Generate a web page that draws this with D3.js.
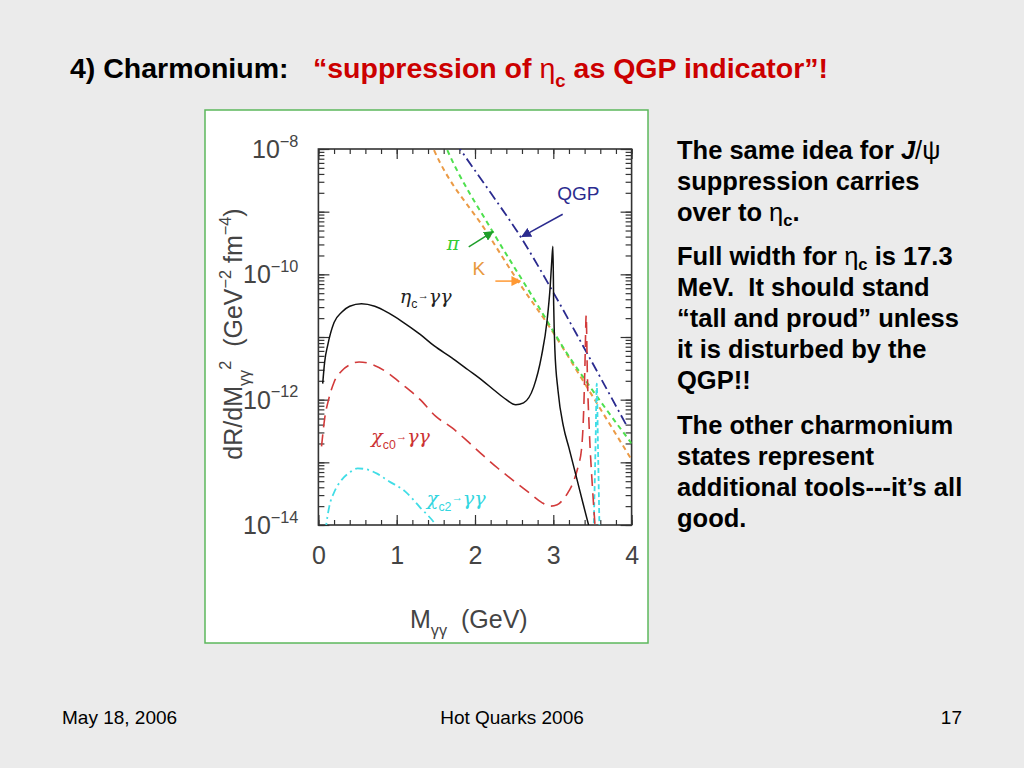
<!DOCTYPE html>
<html>
<head>
<meta charset="utf-8">
<script src="https://cdn.jsdelivr.net/npm/d3@7"></script>
<style>
  html, body { margin: 0; padding: 0; background: #ebebeb; }
  svg { display: block; }
</style>
</head>
<body>
<div id="slide"></div>
<script>
// ---- chart data: [mass in GeV, dR/dM^2] ----
const etaC = [
  [0.055, 1.8e-12], [0.08, 4.0e-12], [0.12, 7.5e-12], [0.2, 1.7e-11], [0.3, 2.5e-11],
  [0.4, 3.1e-11], [0.55, 3.4e-11], [0.72, 3.1e-11], [0.9, 2.4e-11], [1.06, 1.8e-11],
  [1.3, 1.1e-11], [1.48, 7.2e-12], [1.7, 4.7e-12], [1.91, 3.0e-12], [2.1, 2.0e-12],
  [2.25, 1.4e-12], [2.4, 1.0e-12], [2.52, 8.3e-13], [2.62, 8.9e-13], [2.75, 1.6e-12],
  [2.85, 5.0e-12], [2.92, 1.8e-11], [2.96, 6.3e-11], [2.98, 1.6e-10], [2.995, 2.8e-10],
  [3.005, 3.2e-11], [3.02, 6.3e-12], [3.06, 1.4e-12], [3.13, 3.7e-13], [3.2, 1.7e-13],
  [3.3, 5.5e-14], [3.38, 2.2e-14], [3.46, 9e-15]
];
const chiC0 = [
  [0.04, 1.8e-13], [0.08, 5.0e-13], [0.13, 1.0e-12], [0.2, 1.9e-12], [0.3, 2.9e-12],
  [0.4, 3.6e-12], [0.52, 4.0e-12], [0.7, 3.6e-12], [0.9, 2.6e-12], [1.06, 1.8e-12],
  [1.3, 1.0e-12], [1.5, 5.4e-13], [1.7, 3.6e-13], [1.9, 2.2e-13], [2.1, 1.3e-13],
  [2.3, 7.9e-14], [2.5, 5.0e-14], [2.7, 3.2e-14], [2.85, 2.3e-14], [2.96, 2.0e-14],
  [3.05, 2.1e-14], [3.12, 2.5e-14], [3.2, 3.5e-14], [3.26, 5.0e-14], [3.32, 8.9e-14],
  [3.36, 1.6e-13], [3.39, 7.9e-13], [3.405, 4.0e-12], [3.42, 2.2e-11], [3.435, 2.5e-12],
  [3.46, 3.2e-13], [3.5, 4.0e-14], [3.535, 9e-15]
];
const chiC2 = [
  [0.09, 8e-15], [0.1, 1.0e-14], [0.14, 2.0e-14], [0.2, 3.3e-14], [0.3, 5.3e-14],
  [0.4, 6.9e-14], [0.5, 8.0e-14], [0.6, 7.8e-14], [0.75, 6.6e-14], [0.9, 5.0e-14],
  [1.1, 3.5e-14], [1.3, 1.9e-14], [1.5, 1.0e-14], [1.55, 8e-15],
  [3.515, 8e-15], [3.54, 2.0e-13], [3.555, 1.8e-12], [3.57, 2.0e-13], [3.59, 8e-15]
];
const chiC2Breaks = [14]; // index where the second branch starts
const qgp = [
  [1.75, 1.3e-8], [1.81, 1.0e-8], [2.2, 2.0e-9], [2.57, 4.2e-10], [2.96, 6.3e-11],
  [3.38, 7.2e-12], [3.93, 4.0e-13]
];
const pion = [
  [1.6, 1.3e-8], [1.64, 1.0e-8], [2.23, 4.7e-10], [2.74, 4.3e-11], [3.17, 5.6e-12],
  [3.6, 9.5e-13], [4.0, 2.0e-13]
];
const kaon = [
  [1.43, 1.3e-8], [1.47, 1.0e-8], [2.15, 4.7e-10], [2.57, 7.1e-11], [2.96, 1.4e-11],
  [3.38, 2.0e-12], [4.0, 1.1e-13]
];

const xTicks = [0, 1, 2, 3, 4];
const yLabelTicks = [1e-8, 1e-10, 1e-12, 1e-14];
const yLabelExps = ["−8", "−10", "−12", "−14"];

// labels and arrows, anchored in data coordinates
const curveLabels = [
  {x: 1.37, y: 4.4e-11, color: "#222", segs: [["η", "g"], ["c", "sub"], ["→", "arr"], ["γγ", "g"]]},
  {x: 1.05, y: 2.5e-13, color: "#cc3333", segs: [["χ", "g"], ["c0", "sub"], ["→", "arr"], ["γγ", "g"]]},
  {x: 1.76, y: 2.6e-14, color: "#33d6e0", segs: [["χ", "g"], ["c2", "sub"], ["→", "arr"], ["γγ", "g"]]},
  {x: 3.32, y: 1.9e-9, color: "#2b2b8f", segs: [["QGP"]]},
  {x: 1.72, y: 3.0e-10, color: "#33cc33", segs: [["π", "g"]]},
  {x: 2.05, y: 1.2e-10, color: "#e8983c", segs: [["K"]]}
];
const arrows = [
  {from: [3.12, 9.1e-10], to: [2.6, 4.0e-10], color: "#2b2b8f"},
  {from: [1.92, 2.75e-10], to: [2.23, 4.8e-10], color: "#1e9e2a"},
  {from: [2.26, 7.8e-11], to: [2.58, 7.8e-11], color: "#ff9933"}
];

// ---- slide text ----
const bodyLines = [
  {y: 159, segs: [["The same idea for "], ["J", "i"], ["/ψ", "n"]]},
  {y: 190, segs: [["suppression carries"]]},
  {y: 221, segs: [["over to "], ["η", "n"], ["c", "sub"], ["."]]},
  {y: 265, segs: [["Full width for "], ["η", "n"], ["c", "sub"], [" is 17.3"]]},
  {y: 296, segs: [["MeV.\u00a0 It should stand"]]},
  {y: 327, segs: [["“tall and proud” unless"]]},
  {y: 358, segs: [["it is disturbed by the"]]},
  {y: 389, segs: [["QGP!!"]]},
  {y: 434, segs: [["The other charmonium"]]},
  {y: 465, segs: [["states represent"]]},
  {y: 496, segs: [["additional tools---it’s all"]]},
  {y: 527, segs: [["good."]]}
];

const W = 1024, H = 768;
const frame = {left: 318.4, right: 631.6, top: 149, bottom: 525};
const plotFont = "'Liberation Sans', Arial, sans-serif";
const ink = "#444";

const svg = d3.select("#slide").append("svg")
  .attr("width", W).attr("height", H);

svg.append("rect").attr("width", W).attr("height", H).attr("fill", "#ebebeb");

// writes rich text (sub/superscripts, italics) into a text element
function rich(sel, segs, size, subShift = 0.3) {
  let shift = 0;
  segs.forEach(([t, s]) => {
    const ts = sel.append("tspan").text(t);
    let target = 0;
    if (s === "sub") { target = size * subShift; ts.attr("font-size", size * 0.65); }
    if (s === "sup") { target = -size * 0.45; ts.attr("font-size", size * 0.65); }
    if (s === "arr") { target = -size * 0.2; ts.attr("font-size", size * 0.6); }
    if (s === "i") ts.attr("font-style", "italic");
    if (s === "n") ts.attr("font-weight", "normal");
    if (s === "g") ts.attr("font-family", "'DejaVu Serif', serif").attr("font-style", "italic");
    if (target !== shift) { ts.attr("dy", target - shift); shift = target; }
  });
}

// title
const title = svg.append("g")
  .attr("font-family", "'Liberation Sans', Arial, sans-serif")
  .attr("font-weight", "bold").attr("font-size", 28.5);
title.append("text").attr("x", 70).attr("y", 78).attr("fill", "#000").text("4) Charmonium:");
rich(title.append("text").attr("x", 313).attr("y", 78).attr("fill", "#cc0000"),
  [["“suppression of "], ["η", "n"], ["c", "sub"], [" as QGP indicator”!"]], 28.5);

// right hand text
const body = svg.append("g")
  .attr("font-family", "'Liberation Sans', Arial, sans-serif")
  .attr("font-weight", "bold").attr("font-size", 25.5).attr("fill", "#000");
bodyLines.forEach(l => rich(body.append("text").attr("x", 677).attr("y", l.y), l.segs, 25.5, 0.2));

// footer
const foot = svg.append("g")
  .attr("font-family", "'Liberation Sans', Arial, sans-serif")
  .attr("font-size", 19).attr("fill", "#000");
foot.append("text").attr("x", 62).attr("y", 724).text("May 18, 2006");
foot.append("text").attr("x", 512).attr("y", 724).attr("text-anchor", "middle").text("Hot Quarks 2006");
foot.append("text").attr("x", 962).attr("y", 724).attr("text-anchor", "end").text("17");

// picture box
svg.append("rect")
  .attr("x", 205).attr("y", 110).attr("width", 443).attr("height", 533)
  .attr("fill", "#fff").attr("stroke", "#5cb85c").attr("stroke-width", 1.5);

// scales
const x = d3.scaleLinear().domain([0, 4]).range([frame.left, frame.right]);
const y = d3.scaleLog().domain([1e-14, 1e-8]).range([frame.bottom, frame.top]);

const plot = svg.append("g").attr("font-family", plotFont);

// axes with inward ticks on all four sides
const minorX = d3.range(0, 4.001, 0.2);
const majorY = y.ticks().filter(v => Math.abs(Math.log10(v) - Math.round(Math.log10(v))) < 1e-6);
const minorY = y.ticks();

function styleAxis(g) {
  g.select(".domain").remove();
  g.selectAll("line").attr("stroke", "#333").attr("stroke-width", 1.2);
}
plot.append("g").attr("transform", `translate(0,${frame.bottom})`)
  .call(d3.axisBottom(x).tickValues(minorX).tickSize(-5).tickFormat(""))
  .call(styleAxis);
plot.append("g").attr("transform", `translate(0,${frame.bottom})`)
  .call(d3.axisBottom(x).tickValues(xTicks).tickSize(-10).tickPadding(21).tickFormat(d3.format("d")))
  .call(styleAxis)
  .call(g => g.selectAll("text").attr("font-size", 25).attr("fill", ink).attr("font-family", plotFont));
plot.append("g").attr("transform", `translate(0,${frame.top})`)
  .call(d3.axisTop(x).tickValues(minorX).tickSize(-5).tickFormat(""))
  .call(styleAxis);
plot.append("g").attr("transform", `translate(0,${frame.top})`)
  .call(d3.axisTop(x).tickValues(xTicks).tickSize(-10).tickFormat(""))
  .call(styleAxis);
[["left", frame.left, d3.axisLeft], ["right", frame.right, d3.axisRight]].forEach(([, px, ax]) => {
  plot.append("g").attr("transform", `translate(${px},0)`)
    .call(ax(y).tickValues(minorY).tickSize(-6).tickFormat(""))
    .call(styleAxis);
  plot.append("g").attr("transform", `translate(${px},0)`)
    .call(ax(y).tickValues(majorY).tickSize(-11).tickFormat(""))
    .call(styleAxis);
});

plot.append("rect")
  .attr("x", frame.left).attr("y", frame.top)
  .attr("width", frame.right - frame.left).attr("height", frame.bottom - frame.top)
  .attr("fill", "none").attr("stroke", "#333").attr("stroke-width", 1.6);

// y tick labels 10^n
yLabelTicks.forEach((v, i) => {
  const t = plot.append("text")
    .attr("x", frame.left - 20).attr("y", y(v) + 9)
    .attr("text-anchor", "end").attr("font-size", 25).attr("fill", ink);
  rich(t, [["10"], [yLabelExps[i], "sup"]], 25);
});

// axis titles
rich(plot.append("text").attr("x", 410).attr("y", 628).attr("font-size", 25).attr("fill", ink),
  [["M"], ["γγ", "sub"], ["\u00a0\u00a0(GeV)"]], 25);
const yt = plot.append("text")
  .attr("transform", "translate(242,334) rotate(-90)")
  .attr("text-anchor", "middle").attr("font-size", 25).attr("fill", ink);
rich(yt, [["dR/dM"], ["γγ", "sub"], ["2", "sup"], ["\u00a0\u00a0(GeV"], ["−2", "sup"], ["\u00a0fm"], ["−4", "sup"], [")"]], 25);

// curves
svg.append("defs").append("clipPath").attr("id", "frameClip")
  .append("rect")
  .attr("x", frame.left).attr("y", frame.top)
  .attr("width", frame.right - frame.left).attr("height", frame.bottom - frame.top);

const line = d3.line().x(d => x(d[0])).y(d => y(d[1])).curve(d3.curveMonotoneX);
const curves = plot.append("g").attr("clip-path", "url(#frameClip)").attr("fill", "none");

const series = [
  {data: kaon, color: "#eb9a45", width: 2, dash: "5,4"},
  {data: pion, color: "#4ee04e", width: 2, dash: "5,4"},
  {data: qgp, color: "#2b2b8f", width: 1.8, dash: "10,4,2,4"},
  {data: chiC2.slice(0, chiC2Breaks[0]), color: "#40dde6", width: 1.8, dash: "8,4,2,4"},
  {data: chiC2.slice(chiC2Breaks[0]), color: "#40dde6", width: 1.8, dash: "5,3"},
  {data: chiC0, color: "#d23a3a", width: 1.6, dash: "12,7"},
  {data: etaC, color: "#111", width: 1.5, dash: null}
];
series.forEach(s => {
  curves.append("path").attr("d", line(s.data))
    .attr("stroke", s.color).attr("stroke-width", s.width)
    .attr("stroke-dasharray", s.dash);
});

// annotations
curveLabels.forEach(l => {
  const t = plot.append("text")
    .attr("x", x(l.x)).attr("y", y(l.y) + 6)
    .attr("text-anchor", "middle").attr("font-size", 19).attr("fill", l.color);
  rich(t, l.segs, 19);
});

const defs = svg.select("defs");
arrows.forEach((a, i) => {
  defs.append("marker").attr("id", "arrow" + i)
    .attr("viewBox", "0 0 10 10").attr("refX", 9).attr("refY", 5)
    .attr("markerWidth", 10).attr("markerHeight", 10).attr("markerUnits", "userSpaceOnUse")
    .attr("orient", "auto")
    .append("path").attr("d", "M0,0 L10,5 L0,10 z").attr("fill", a.color);
  plot.append("line")
    .attr("x1", x(a.from[0])).attr("y1", y(a.from[1]))
    .attr("x2", x(a.to[0])).attr("y2", y(a.to[1]))
    .attr("stroke", a.color).attr("stroke-width", 1.5)
    .attr("marker-end", `url(#arrow${i})`);
});
</script>
</body>
</html>
